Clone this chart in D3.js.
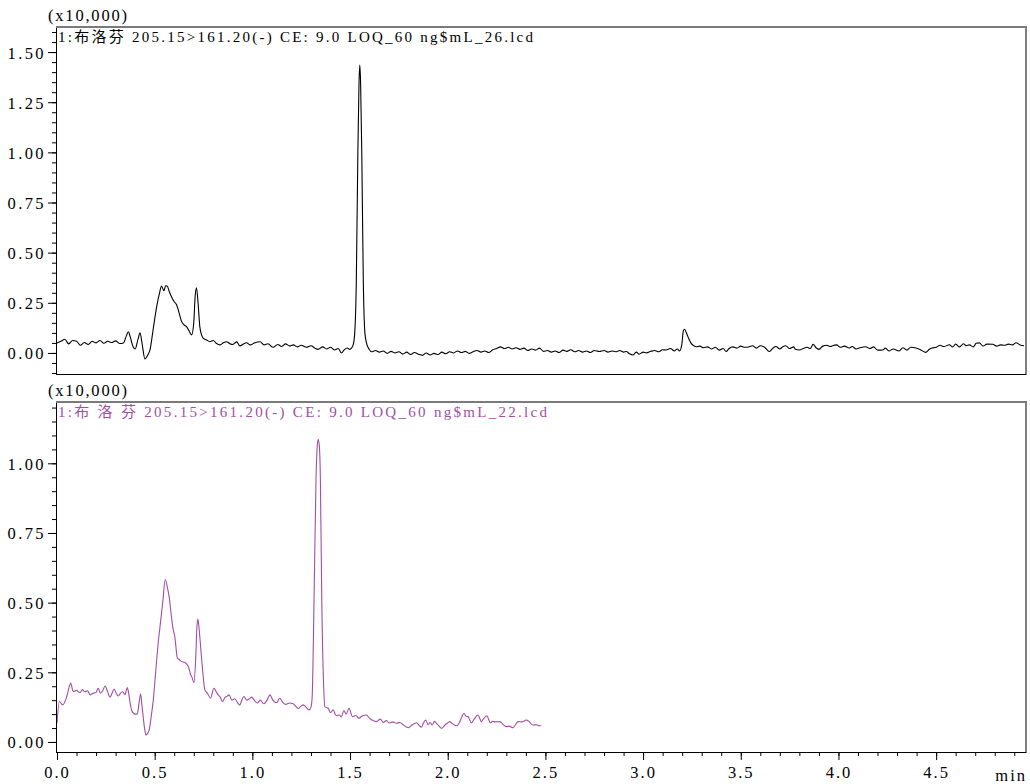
<!DOCTYPE html>
<html>
<head>
<meta charset="utf-8">
<script src="https://cdn.jsdelivr.net/npm/d3@7"></script>
<style>
  body { margin: 0; background: #fff; }
  svg { display: block; }
  text { font-family: "Liberation Serif", "Noto Sans CJK SC", serif; fill: #000; }
</style>
</head>
<body>
<script>
// retention time (min) and intensity (x10,000) of the upper trace (file _26)
var topTime = [0.00,0.02,0.04,0.06,0.08,0.10,0.12,0.14,0.16,0.18,0.20,0.22,0.24,0.26,0.28,0.30,0.32,0.34,
  0.355,0.365,0.375,0.39,0.40,0.415,0.425,0.435,0.45,0.465,0.476,0.493,0.51,0.525,0.535,0.547,0.556,0.564,0.575,
  0.586,0.60,0.612,0.625,0.638,0.65,0.663,0.676,0.689,0.70,0.707,0.714,0.722,0.731,0.74,0.749,0.765,0.783,0.80,
  0.815,0.834,0.85,0.868,0.885,0.90,0.92,0.936,0.955,0.97,0.99,1.01,1.04,1.06,1.08,1.106,1.13,1.15,1.17,1.19,
  1.21,1.23,1.25,1.277,1.30,1.32,1.336,1.36,1.38,1.40,1.42,1.44,1.456,1.47,1.485,1.498,1.508,1.516,1.524,1.532,
  1.54,1.546,1.55,1.554,1.56,1.568,1.576,1.584,1.597,1.61,1.63,1.65,1.67,1.69,1.71,1.73,1.75,1.77,1.79,1.81,
  1.83,1.85,1.87,1.89,1.91,1.93,1.95,1.97,1.99,2.01,2.03,2.05,2.07,2.09,2.11,2.13,2.15,2.17,2.19,2.21,2.23,2.25,
  2.27,2.29,2.31,2.33,2.35,2.37,2.39,2.41,2.43,2.45,2.47,2.49,2.51,2.53,2.55,2.57,2.59,2.61,2.63,2.65,2.67,2.69,
  2.71,2.73,2.75,2.777,2.80,2.82,2.84,2.86,2.88,2.90,2.914,2.93,2.948,2.965,2.98,3.00,3.016,3.04,3.06,3.08,3.10,
  3.118,3.14,3.16,3.175,3.187,3.198,3.206,3.212,3.22,3.232,3.246,3.26,3.272,3.29,3.31,3.33,3.35,3.37,3.39,3.41,
  3.425,3.44,3.46,3.48,3.50,3.52,3.545,3.56,3.58,3.60,3.62,3.647,3.665,3.68,3.70,3.715,3.73,3.75,3.77,3.78,3.80,
  3.82,3.84,3.856,3.87,3.885,3.90,3.92,3.94,3.96,3.97,3.99,4.01,4.03,4.056,4.07,4.09,4.11,4.14,4.16,4.18,4.20,
  4.227,4.24,4.26,4.28,4.31,4.33,4.35,4.37,4.397,4.42,4.448,4.465,4.48,4.50,4.52,4.54,4.568,4.585,4.60,4.62,4.64,
  4.653,4.67,4.69,4.705,4.721,4.74,4.76,4.79,4.81,4.83,4.85,4.87,4.89,4.909,4.93,4.95];
var topSignal = [0.050,0.058,0.068,0.045,0.062,0.058,0.038,0.052,0.042,0.058,0.050,0.062,0.048,0.058,0.052,0.060,0.047,0.050,
  0.085,0.106,0.080,0.030,0.020,0.070,0.100,0.050,-0.030,-0.010,0.015,0.123,0.230,0.300,0.334,0.310,0.335,0.334,0.305,
  0.280,0.255,0.240,0.200,0.156,0.140,0.131,0.110,0.090,0.150,0.280,0.325,0.250,0.131,0.090,0.073,0.065,0.056,0.062,
  0.048,0.040,0.050,0.056,0.046,0.042,0.055,0.035,0.045,0.051,0.040,0.050,0.056,0.040,0.046,0.028,0.042,0.032,0.045,0.035,
  0.040,0.030,0.038,0.028,0.036,0.024,0.018,0.030,0.020,0.028,0.015,0.022,0.000,0.015,0.025,0.018,0.025,0.040,0.100,0.350,
  1.000,1.350,1.435,1.350,1.000,0.350,0.100,0.050,0.020,0.006,0.012,0.004,0.010,-0.002,0.008,0.000,0.006,-0.006,0.004,-0.008,
  0.002,-0.006,-0.012,0.000,-0.010,-0.002,-0.008,0.004,-0.004,0.006,0.000,0.010,0.002,0.008,-0.002,0.006,0.012,0.004,0.010,0.002,0.016,0.022,
  0.030,0.022,0.028,0.020,0.026,0.018,0.024,0.012,0.020,0.014,0.024,0.008,0.012,0.004,0.010,0.002,0.014,0.008,0.016,0.006,0.012,0.004,
  0.010,0.002,0.012,0.007,0.012,0.004,0.010,0.006,0.012,0.004,0.007,-0.004,-0.010,0.004,-0.006,0.004,0.000,0.008,0.012,0.006,0.016,
  0.015,0.022,0.010,0.020,0.010,0.040,0.110,0.118,0.104,0.075,0.048,0.036,0.031,0.034,0.026,0.030,0.020,0.028,0.014,0.022,
  0.007,0.022,0.030,0.024,0.034,0.028,0.031,0.036,0.024,0.036,0.030,0.007,0.024,0.032,0.020,0.031,0.036,0.022,0.030,0.018,0.015,
  0.022,0.028,0.022,0.043,0.026,0.018,0.034,0.038,0.032,0.036,0.040,0.028,0.034,0.025,0.032,0.020,0.026,0.031,0.022,0.030,0.014,
  0.015,0.024,0.010,0.020,0.010,0.026,0.014,0.028,0.025,0.016,0.003,0.018,0.025,0.028,0.038,0.032,0.041,0.030,0.044,0.030,0.046,
  0.036,0.040,0.030,0.048,0.050,0.034,0.044,0.043,0.034,0.040,0.038,0.044,0.040,0.051,0.040,0.036];

// lower trace (file _22), stops at about 2.5 min
var bottomTime = [0.000,0.012,0.029,0.05,0.07,0.083,0.10,0.118,0.13,0.143,0.156,0.169,0.185,0.20,0.211,0.222,0.235,0.246,
  0.258,0.271,0.282,0.292,0.303,0.314,0.325,0.336,0.348,0.36,0.37,0.378,0.387,0.40,0.411,0.42,0.428,0.435,0.441,0.448,
  0.455,0.463,0.472,0.482,0.493,0.505,0.518,0.53,0.541,0.554,0.565,0.575,0.584,0.592,0.604,0.616,0.627,0.638,0.655,
  0.672,0.684,0.692,0.701,0.71,0.716,0.721,0.727,0.735,0.745,0.757,0.77,0.786,0.803,0.815,0.825,0.836,0.847,0.86,
  0.872,0.881,0.895,0.91,0.925,0.936,0.946,0.957,0.97,0.985,0.996,1.01,1.025,1.04,1.059,1.075,1.09,1.105,1.124,1.14,
  1.155,1.17,1.19,1.209,1.22,1.234,1.248,1.26,1.275,1.29,1.30,1.306,1.316,1.326,1.332,1.337,1.343,1.348,1.355,1.365,
  1.371,1.388,1.40,1.414,1.428,1.444,1.456,1.468,1.48,1.495,1.512,1.53,1.545,1.56,1.584,1.60,1.615,1.635,1.655,1.67,
  1.686,1.70,1.72,1.737,1.755,1.775,1.797,1.815,1.84,1.855,1.865,1.876,1.887,1.90,1.91,1.921,1.932,1.942,1.955,1.968,
  1.985,2.00,2.01,2.025,2.045,2.06,2.072,2.083,2.094,2.104,2.112,2.121,2.138,2.155,2.165,2.172,2.185,2.201,2.21,2.218,
  2.23,2.245,2.266,2.28,2.30,2.315,2.334,2.345,2.36,2.38,2.403,2.418,2.436,2.455,2.468,2.479];
var bottomSignal = [0.067,0.145,0.133,0.163,0.211,0.181,0.185,0.177,0.188,0.180,0.184,0.169,0.175,0.178,0.193,0.175,0.185,0.201,
  0.183,0.161,0.175,0.190,0.175,0.165,0.175,0.180,0.170,0.195,0.160,0.125,0.106,0.100,0.100,0.140,0.173,0.130,0.091,0.050,
  0.025,0.030,0.043,0.090,0.151,0.250,0.355,0.430,0.499,0.583,0.555,0.517,0.460,0.415,0.373,0.301,0.295,0.289,0.285,
  0.271,0.241,0.230,0.213,0.300,0.410,0.441,0.410,0.343,0.260,0.187,0.175,0.157,0.193,0.180,0.169,0.160,0.145,0.160,
  0.165,0.169,0.150,0.155,0.140,0.133,0.150,0.163,0.150,0.155,0.161,0.150,0.140,0.150,0.137,0.150,0.169,0.150,0.141,0.157,
  0.143,0.135,0.140,0.137,0.130,0.120,0.128,0.133,0.125,0.115,0.125,0.160,0.523,0.950,1.060,1.086,1.060,0.950,0.523,0.200,
  0.127,0.121,0.105,0.115,0.095,0.097,0.090,0.113,0.100,0.121,0.091,0.095,0.085,0.092,0.097,0.085,0.078,0.073,0.082,0.070,
  0.077,0.068,0.072,0.067,0.070,0.060,0.051,0.060,0.069,0.058,0.053,0.068,0.079,0.062,0.070,0.061,0.074,0.067,0.058,0.049,
  0.060,0.068,0.073,0.065,0.058,0.070,0.090,0.103,0.092,0.091,0.080,0.069,0.085,0.097,0.083,0.073,0.085,0.094,0.080,0.069,
  0.074,0.072,0.073,0.065,0.055,0.057,0.051,0.060,0.073,0.072,0.079,0.072,0.061,0.062,0.058,0.059];

var topTicks = [0, 0.25, 0.5, 0.75, 1.0, 1.25, 1.5];
var bottomTicks = [0, 0.25, 0.5, 0.75, 1.0];
var timeTicks = [0, 0.5, 1.0, 1.5, 2.0, 2.5, 3.0, 3.5, 4.0, 4.5];

var titleTop = '1:布洛芬 205.15>161.20(-) CE: 9.0 LOQ_60 ng$mL_26.lcd';
var titleBottom = '1:布 洛 芬 205.15>161.20(-) CE: 9.0 LOQ_60 ng$mL_22.lcd';

var W = 1030, H = 784;
var purple = '#a24ea6';

var svg = d3.select('body').append('svg')
    .attr('width', W)
    .attr('height', H);

var x = d3.scaleLinear().domain([0, 4.96]).range([57, 1026]);

var panels = [
  { top: 27, bottom: 374, domain: [-0.105, 1.625], ticks: topTicks,
    time: topTime, signal: topSignal, color: '#000', title: titleTop, titleW: 475 },
  { top: 402, bottom: 752, domain: [-0.036, 1.22], ticks: bottomTicks,
    time: bottomTime, signal: bottomSignal, color: purple, title: titleBottom, titleW: 489 }
];

panels.forEach(function(p, i) {
  var y = d3.scaleLinear().domain(p.domain).range([p.bottom, p.top]);
  var g = svg.append('g');

  g.append('clipPath').attr('id', 'clip' + i)
    .append('rect')
      .attr('x', 56).attr('y', p.top)
      .attr('width', 1026 - 56).attr('height', p.bottom - p.top);

  // minor ticks every 0.05
  var minor = d3.range(Math.ceil(p.domain[0] / 0.05) * 0.05, p.domain[1], 0.05)
      .map(function(v) { return Math.round(v * 100) / 100; });
  g.append('g')
      .attr('transform', 'translate(56,0)')
      .call(d3.axisLeft(y).tickValues(minor).tickSize(4).tickFormat(''))
      .call(function(s) { s.select('.domain').remove(); });

  var major = g.append('g')
      .attr('transform', 'translate(56,0)')
      .call(d3.axisLeft(y).tickValues(p.ticks).tickSize(8).tickPadding(2).tickFormat(d3.format('.2f')))
      .call(function(s) { s.select('.domain').remove(); });
  major.selectAll('text')
      .style('font-family', '"Liberation Serif", serif')
      .style('font-size', '16.5px')
      .style('letter-spacing', '2.4px')
      .attr('dy', '0.36em');

  // trace
  var line = d3.line()
      .x(function(d, k) { return x(p.time[k]); })
      .y(function(d) { return y(d); })
      .curve(d3.curveMonotoneX);
  g.append('path')
      .datum(p.signal)
      .attr('clip-path', 'url(#clip' + i + ')')
      .attr('fill', 'none')
      .attr('stroke', p.color)
      .attr('stroke-width', 1.1)
      .attr('d', line);

  // frame: black sides, grey top
  g.append('rect')
      .attr('x', 56.5).attr('y', p.top + 0.5)
      .attr('width', 1026 - 56.5).attr('height', p.bottom - p.top)
      .attr('fill', 'none')
      .attr('stroke', '#000');
  g.append('line')
      .attr('x1', 56).attr('x2', 1027)
      .attr('y1', p.top).attr('y2', p.top)
      .attr('stroke', '#7a7a7a')
      .attr('stroke-width', 2);

  g.append('text')
      .attr('x', 48).attr('y', p.top - 6)
      .style('font-size', '16.5px')
      .style('letter-spacing', '1.8px')
      .text('(x10,000)');

  g.append('text')
      .attr('x', 58).attr('y', p.top + 15)
      .attr('textLength', p.titleW)
      .attr('lengthAdjust', 'spacing')
      .style('font-size', '15px')
      .style('fill', p.color)
      .text(p.title);
});

// time axis under the lower panel
var minorT = d3.range(0, 4.95, 0.1).map(function(v) { return Math.round(v * 10) / 10; });
svg.append('g')
    .attr('transform', 'translate(0,752)')
    .call(d3.axisBottom(x).tickValues(minorT).tickSize(4).tickFormat(''))
    .call(function(s) { s.select('.domain').remove(); });
var xAxis = svg.append('g')
    .attr('transform', 'translate(0,752)')
    .call(d3.axisBottom(x).tickValues(timeTicks).tickSize(8).tickPadding(6).tickFormat(d3.format('.1f')))
    .call(function(s) { s.select('.domain').remove(); });
xAxis.selectAll('text')
    .style('font-family', '"Liberation Serif", serif')
    .style('font-size', '16.5px')
    .style('letter-spacing', '2px');

svg.append('text')
    .attr('x', 1027).attr('y', 781)
    .attr('text-anchor', 'end')
    .style('font-size', '16.5px')
    .style('letter-spacing', '2px')
    .text('min');
</script>
</body>
</html>
